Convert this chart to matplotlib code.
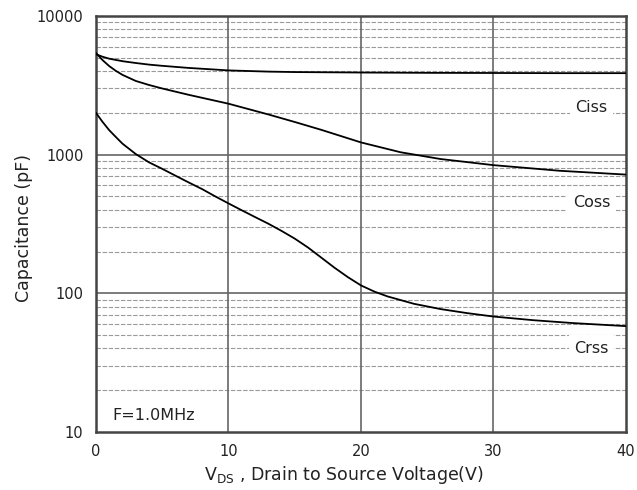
import matplotlib
matplotlib.use("Agg")
import matplotlib.pyplot as plt
from matplotlib.ticker import FixedLocator, NullFormatter

plt.rcParams['font.family'] = ['DejaVu Sans']
plt.rcParams['mathtext.default'] = 'regular'

# значения
vds_ciss = [0, 0.5, 1, 2, 3, 4, 5, 7, 10, 13, 15, 20, 25, 30, 35, 40]
ciss = [5300, 5080, 4920, 4720, 4580, 4460, 4370, 4220, 4050, 3970, 3940, 3910, 3890, 3880, 3870, 3870]

vds_coss = [0, 0.5, 1, 1.5, 2, 3, 4, 5, 7, 10, 13, 15, 17, 20, 23, 26, 30, 35, 40]
coss = [5400, 4800, 4350, 4020, 3760, 3400, 3180, 3000, 2700, 2330, 1950, 1720, 1510, 1225, 1040, 930, 840, 765, 718]

vds_crss = [0, 0.5, 1, 1.5, 2, 3, 4, 5, 6, 7, 8, 9, 10, 11, 12, 13, 14, 15, 16, 17,
            18, 19, 20, 21, 22, 24, 26, 28, 30, 33, 36, 40]
crss = [2000, 1720, 1500, 1340, 1200, 1010, 880, 790, 705, 630, 565, 500, 445, 397, 355, 318,
        282, 248, 214, 181, 153, 131, 114, 103, 95, 84, 77, 72, 68, 64, 61, 58]

x_ticks = [0, 10, 20, 30, 40]
y_ticks = [10, 100, 1000, 10000]
y_minor = [m * d for d in (10, 100, 1000) for m in range(2, 10)]

curve_labels = ["Ciss", "Coss", "Crss"]
label_y = [2200, 450, 40]


def main():
    fig = plt.figure(figsize=(6.37, 4.9), dpi=100)
    ax = fig.add_axes([0.1507, 0.1184, 0.832, 0.849])

    ax.set_yscale('log')
    ax.set_xlim(0, 40)
    ax.set_ylim(10, 10000)

    # сетка
    for y in y_minor:
        ax.axhline(y, color='#9a9a9a', lw=0.8, ls=(0, (4, 1.5)), zorder=1)
    for y in y_ticks[1:-1]:
        ax.axhline(y, color='#666666', lw=1.2, zorder=1)
    for x in x_ticks[1:-1]:
        ax.axvline(x, color='#666666', lw=1.2, zorder=1)

    ax.plot(vds_ciss, ciss, color='black', lw=1.3, zorder=3)
    ax.plot(vds_coss, coss, color='black', lw=1.3, zorder=3)
    ax.plot(vds_crss, crss, color='black', lw=1.3, zorder=3)

    for name, y in zip(curve_labels, label_y):
        ax.text(37.4, y, name, fontsize=11.5, color='#222222', ha='center', va='center',
                bbox=dict(facecolor='white', edgecolor='none', pad=4), zorder=2)

    ax.text(1.2, 13.2, "F=1.0MHz", fontsize=11.5, color='#222222', ha='left', va='center', zorder=2)

    ax.yaxis.set_major_locator(FixedLocator(y_ticks))
    ax.yaxis.set_minor_locator(FixedLocator(y_minor))
    ax.yaxis.set_minor_formatter(NullFormatter())
    ax.set_yticklabels([str(v) for v in y_ticks])
    ax.set_xticks(x_ticks)
    ax.tick_params(axis='both', which='both', length=0, labelsize=10.5, colors='#222222')
    ax.tick_params(axis='y', pad=9)
    ax.tick_params(axis='x', pad=9)

    for s in ax.spines.values():
        s.set_color('#444444')
        s.set_linewidth(1.8)

    ax.set_xlabel("$V_{DS}$ , Drain to Source Voltage(V)", fontsize=12.5, color='#222222')
    ax.xaxis.set_label_coords(0.468, -0.078)
    ax.set_ylabel("Capacitance (pF)", fontsize=12.5, color='#222222')
    ax.yaxis.set_label_coords(-0.119, 0.49)

    fig.savefig("out.png", dpi=100)


if __name__ == "__main__":
    main()
